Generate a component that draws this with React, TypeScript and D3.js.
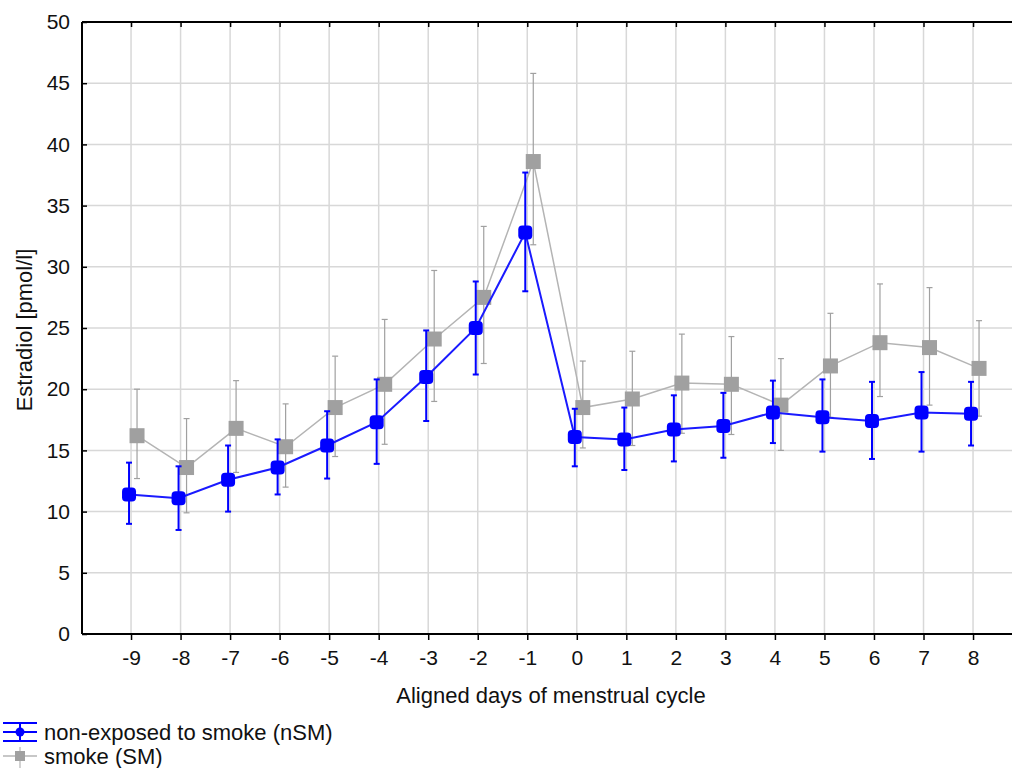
import React, { useEffect, useRef } from 'react';
import * as d3 from 'd3';

// aligned days
const days = [-9, -8, -7, -6, -5, -4, -3, -2, -1, 0, 1, 2, 3, 4, 5, 6, 7, 8];

// non-exposed to smoke (nSM)
const nsmMean = [11.4, 11.1, 12.6, 13.6, 15.4, 17.3, 21.0, 25.0, 32.8, 16.1, 15.9, 16.7, 17.0, 18.1, 17.7, 17.4, 18.1, 18.0];
const nsmHigh = [14.0, 13.7, 15.4, 15.9, 18.2, 20.8, 24.8, 28.8, 37.7, 18.4, 18.5, 19.5, 19.7, 20.7, 20.8, 20.6, 21.4, 20.6];
const nsmLow = [9.0, 8.5, 10.0, 11.4, 12.7, 13.9, 17.4, 21.2, 28.0, 13.7, 13.4, 14.1, 14.4, 15.6, 14.9, 14.3, 14.9, 15.4];

// smoke (SM)
const smMean = [16.2, 13.6, 16.8, 15.3, 18.5, 20.4, 24.1, 27.5, 38.6, 18.5, 19.2, 20.5, 20.4, 18.7, 21.9, 23.8, 23.4, 21.7];
const smHigh = [20.0, 17.6, 20.7, 18.8, 22.7, 25.7, 29.7, 33.3, 45.8, 22.3, 23.1, 24.5, 24.3, 22.5, 26.2, 28.6, 28.3, 25.6];
const smLow = [12.7, 9.9, 13.2, 12.0, 14.5, 15.5, 19.0, 22.1, 31.8, 15.2, 15.4, 16.4, 16.3, 15.0, 17.7, 19.4, 18.7, 17.8];

const yTicks = [0, 5, 10, 15, 20, 25, 30, 35, 40, 45, 50];

const legendLabels = ['non-exposed to smoke (nSM)', 'smoke (SM)'];

const W = 1012;
const H = 768;
const FONT = 'Liberation Sans, Arial, sans-serif';

export default function App() {
  const ref = useRef<SVGSVGElement>(null);

  useEffect(() => {
    const svg = d3.select(ref.current);
    svg.selectAll('*').remove();

    const left = 82, top = 22, bottom = 634, right = 1040;

    const x = d3.scaleLinear().domain([-10, 9.6]).range([left - 0.5, left - 0.5 + 49.53 * 19.6]);
    const y = d3.scaleLinear().domain([0, 50]).range([bottom, top]);

    // grid
    const grid = svg.append('g');
    grid.selectAll('.vg').data(days).enter().append('line')
      .attr('x1', d => x(d)).attr('x2', d => x(d))
      .attr('y1', top).attr('y2', bottom)
      .attr('stroke', '#d8d8d8').attr('stroke-width', 1.5);
    grid.selectAll('.hg').data(yTicks.filter(t => t > 0 && t < 50)).enter().append('line')
      .attr('x1', left).attr('x2', right)
      .attr('y1', d => y(d)).attr('y2', d => y(d))
      .attr('stroke', '#d8d8d8').attr('stroke-width', 1.5);

    // axes
    const xAxis = d3.axisBottom(x).tickValues(days).tickSize(6).tickPadding(10).tickFormat(d => String(d));
    const gx = svg.append('g').attr('transform', `translate(0,${bottom})`).call(xAxis);
    gx.select('.domain').attr('stroke', '#000').attr('stroke-width', 2).attr('d', `M${left},0H${right}`);
    gx.selectAll('.tick line').attr('stroke', '#000').attr('stroke-width', 1.5);
    gx.selectAll('.tick text').attr('font-family', FONT).attr('font-size', 21).attr('fill', '#111');

    const xTop = d3.axisBottom(x).tickValues(days).tickSize(5).tickFormat(() => '');
    const gxt = svg.append('g').attr('transform', `translate(0,${top})`).call(xTop);
    gxt.select('.domain').attr('stroke', '#000').attr('stroke-width', 2).attr('d', `M${left},0H${right}`);
    gxt.selectAll('.tick line').attr('stroke', '#000').attr('stroke-width', 1.5);

    const yAxis = d3.axisLeft(y).tickValues(yTicks).tickSize(-5).tickPadding(12);
    const gy = svg.append('g').attr('transform', `translate(${left},0)`).call(yAxis);
    gy.select('.domain').attr('stroke', '#000').attr('stroke-width', 2).attr('d', `M0,${top}V${bottom}`);
    gy.selectAll('.tick line').attr('stroke', '#000').attr('stroke-width', 1.5);
    gy.selectAll('.tick text').attr('font-family', FONT).attr('font-size', 21).attr('fill', '#111');

    // axis titles
    svg.append('text').attr('x', 551).attr('y', 703).attr('text-anchor', 'middle')
      .attr('font-family', FONT).attr('font-size', 22).attr('fill', '#111')
      .text('Aligned days of menstrual cycle');
    svg.append('text').attr('transform', 'translate(32,330) rotate(-90)').attr('text-anchor', 'middle')
      .attr('font-family', FONT).attr('font-size', 22).attr('fill', '#111')
      .text('Estradiol [pmol/l]');

    const series = [
      { mean: smMean, hi: smHigh, lo: smLow, dx: 6, color: '#a0a0a0', line: '#b4b4b4', lw: 1.5, ew: 1.2, cap: 3, marker: 'square' },
      { mean: nsmMean, hi: nsmHigh, lo: nsmLow, dx: -2, color: '#0000ff', line: '#1a1aff', lw: 2, ew: 2, cap: 3, marker: 'circle' },
    ];

    series.forEach(s => {
      const g = svg.append('g');
      const pts = days.map((d, i) => ({ d, m: s.mean[i], hi: s.hi[i], lo: s.lo[i] }));
      // error bars
      const eb = g.selectAll('.eb').data(pts).enter().append('g');
      eb.append('line')
        .attr('x1', p => x(p.d) + s.dx).attr('x2', p => x(p.d) + s.dx)
        .attr('y1', p => y(p.hi)).attr('y2', p => y(p.lo))
        .attr('stroke', s.color).attr('stroke-width', s.ew);
      ['hi', 'lo'].forEach(k => {
        eb.append('line')
          .attr('x1', p => x(p.d) + s.dx - s.cap).attr('x2', p => x(p.d) + s.dx + s.cap)
          .attr('y1', (p: any) => y(p[k])).attr('y2', (p: any) => y(p[k]))
          .attr('stroke', s.color).attr('stroke-width', s.ew);
      });
      // line
      const lineGen = d3.line<{ d: number; m: number }>().x(p => x(p.d) + s.dx).y(p => y(p.m));
      g.append('path').datum(pts).attr('d', lineGen)
        .attr('fill', 'none').attr('stroke', s.line).attr('stroke-width', s.lw);
      // markers
      if (s.marker === 'square') {
        g.selectAll('.mk').data(pts).enter().append('rect')
          .attr('x', p => x(p.d) + s.dx - 7.5).attr('y', p => y(p.m) - 7.5)
          .attr('width', 15).attr('height', 15).attr('fill', s.color);
      } else {
        g.selectAll('.mk').data(pts).enter().append('rect')
          .attr('x', p => x(p.d) + s.dx - 7).attr('y', p => y(p.m) - 7)
          .attr('width', 14).attr('height', 14).attr('rx', 4).attr('fill', s.color);
      }
    });

    // legend
    const lg = svg.append('g');
    const ly = [732, 756];
    // nSM
    [-9, 0, 9].forEach(o => {
      lg.append('line').attr('x1', 3).attr('x2', 37).attr('y1', ly[0] + o).attr('y2', ly[0] + o)
        .attr('stroke', '#0000ff').attr('stroke-width', 2);
    });
    lg.append('line').attr('x1', 20).attr('x2', 20).attr('y1', ly[0] - 9).attr('y2', ly[0] + 9).attr('stroke', '#0000ff').attr('stroke-width', 2);
    lg.append('circle').attr('cx', 20).attr('cy', ly[0]).attr('r', 4.5).attr('fill', '#0000ff');
    // SM
    lg.append('line').attr('x1', 3).attr('x2', 37).attr('y1', ly[1]).attr('y2', ly[1]).attr('stroke', '#b4b4b4').attr('stroke-width', 1.5);
    lg.append('line').attr('x1', 20).attr('x2', 20).attr('y1', ly[1] - 9).attr('y2', ly[1] + 12).attr('stroke', '#b4b4b4').attr('stroke-width', 1.2);
    lg.append('rect').attr('x', 15).attr('y', ly[1] - 5).attr('width', 10).attr('height', 10).attr('fill', '#a0a0a0');

    lg.selectAll('.lt').data(legendLabels).enter().append('text')
      .attr('x', 44).attr('y', (d, i) => ly[i] + 8)
      .attr('font-family', FONT).attr('font-size', 22).attr('fill', '#111')
      .text(d => d);
  }, []);

  return (
    <svg ref={ref} width={W} height={H} style={{ position: 'absolute', left: 0, top: 0, background: '#fff' }} />
  );
}
